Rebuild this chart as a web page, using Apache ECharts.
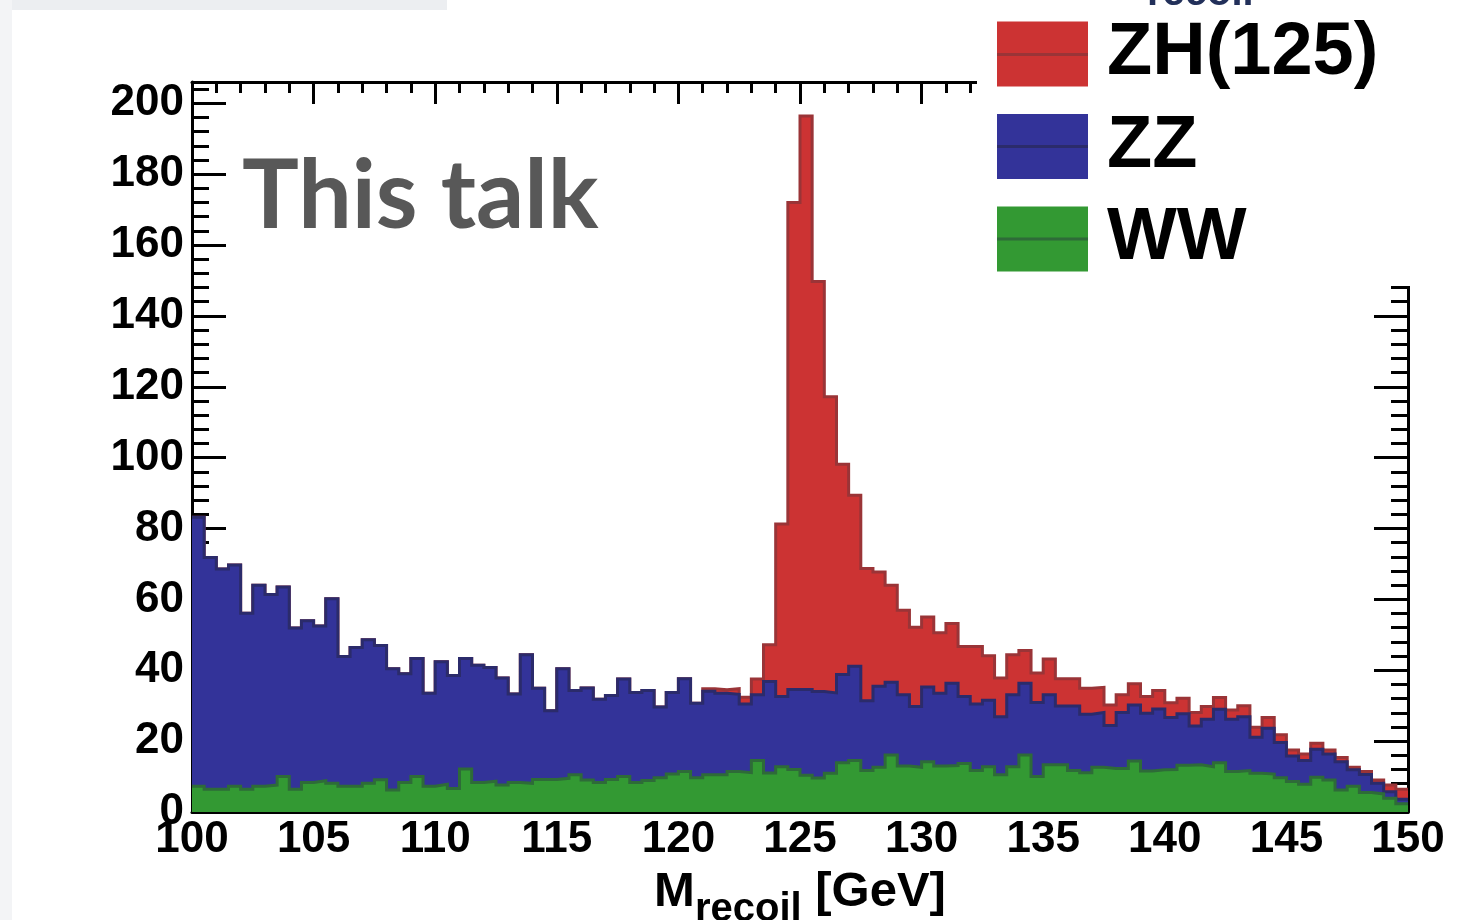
<!DOCTYPE html>
<html>
<head>
<meta charset="utf-8">
<script src="https://cdn.jsdelivr.net/npm/echarts@6/dist/echarts.min.js"></script>
<style>
  html, body { margin: 0; padding: 0; background: #ffffff; }
  #chart { width: 1479px; height: 920px; }
</style>
</head>
<body>
<div id="chart"></div>
<script>
// Recoil-mass distribution, stacked per process, 0.5 GeV bins from 100 to 150 GeV.
const xMin = 100;
const xMax = 150;
const binWidth = 0.5;
const xTickStep = 5;
const yTickStep = 20;
const yMax = 206;

// WW background (events per bin)
const ww = [
  7.3, 6.4, 6.4, 7.3, 6.4, 7.3, 7.6, 10.0, 6.4, 8.3,
  8.8, 8.1, 7.3, 7.3, 8.1, 9.1, 6.2, 8.3, 10.0, 7.3,
  7.8, 6.6, 12.1, 8.3, 8.7, 7.6, 8.3, 8.1, 9.2, 9.2,
  9.5, 10.5, 9.0, 8.3, 9.2, 10.0, 8.3, 8.9, 9.7, 10.7,
  11.4, 9.7, 10.5, 10.5, 11.4, 11.1, 14.5, 11.0, 12.8, 12.0,
  10.4, 9.6, 10.9, 13.9, 14.5, 11.7, 12.6, 16.1, 13.0, 12.6,
  14.2, 13.0, 13.1, 13.7, 11.7, 12.8, 10.5, 12.8, 16.1, 10.0,
  13.3, 13.3, 11.7, 11.1, 12.6, 12.3, 12.3, 14.4, 11.6, 11.9,
  12.0, 13.2, 13.3, 12.8, 13.9, 11.4, 11.7, 10.9, 10.7, 9.7,
  8.6, 7.8, 9.8, 9.0, 6.2, 7.3, 5.5, 5.1, 3.9, 2.3
];

// ZZ background (events per bin)
const zz = [
  75.9, 65.4, 62.2, 62.4, 49.7, 56.7, 53.8, 53.5, 45.5, 45.7,
  43.7, 52.1, 36.6, 39.1, 40.5, 37.9, 34.2, 30.7, 33.3, 26.2,
  34.6, 31.9, 31.2, 33.1, 32.1, 30.2, 25.0, 36.3, 25.7, 19.4,
  30.9, 23.8, 26.0, 23.5, 23.7, 27.5, 25.4, 25.4, 19.9, 23.0,
  26.2, 21.0, 23.6, 23.0, 21.8, 19.4, 18.6, 25.8, 19.8, 22.6,
  24.2, 24.4, 22.7, 24.9, 26.6, 19.7, 22.9, 20.5, 20.1, 17.2,
  21.1, 20.5, 23.2, 18.9, 18.8, 18.7, 16.4, 20.3, 20.2, 20.9,
  19.8, 16.6, 18.2, 16.5, 15.5, 12.1, 15.8, 15.8, 16.3, 17.2,
  14.7, 14.5, 11.0, 13.4, 15.1, 14.8, 15.2, 10.2, 12.9, 9.9,
  7.2, 6.7, 7.9, 7.4, 8.0, 4.6, 5.1, 3.0, 1.8, 1.3
];

// ZH(125) signal (events per bin)
const zh = [
  0, 0, 0, 0, 0, 0, 0, 0, 0, 0,
  0, 0, 0, 0, 0, 0, 0, 0, 0, 0,
  0, 0, 0, 0, 0, 0, 0, 0, 0, 0,
  0, 0, 0, 0, 0, 0, 0, 0, 0, 0,
  0, 0, 0.7, 1.0, 1.6, 1.9, 4.4, 10.4, 48.7, 137.4,
  161.8, 115.7, 83.6, 59.3, 48.3, 37.3, 32.2, 27.4, 23.8, 22.3,
  19.7, 17.1, 16.9, 14.1, 16.2, 12.6, 10.9, 11.3, 9.3, 8.3,
  10.1, 7.7, 7.7, 7.3, 7.1, 5.8, 5.0, 6.0, 4.7, 5.2,
  4.1, 4.4, 3.8, 3.6, 3.3, 2.6, 3.1, 2.8, 3.1, 2.2,
  1.7, 1.9, 1.7, 1.1, 1.2, 0.7, 0.8, 0.9, 1.9, 2.8
];

const seriesNames = ['ZH(125)', 'ZZ', 'WW'];
const fillColors = { 'ZH(125)': '#cc3333', 'ZZ': '#333399', 'WW': '#339933' };
const edgeColors = { 'ZH(125)': '#9a3437', 'ZZ': '#2b2b6b', 'WW': '#2e6b38' };

const FONT = "'Liberation Sans', Arial, Helvetica, sans-serif";

// Stack contents: each layer is drawn from zero up to the sum of itself and everything below it.
const stackOrder = [['WW', ww], ['ZZ', zz], ['ZH(125)', zh]];
const stackTops = {};
let running = ww.map(() => 0);
stackOrder.forEach(([name, values]) => {
  running = running.map((v, i) => v + values[i]);
  stackTops[name] = running;
});

// Bin lower edges, plus the closing edge so the last bin is drawn as a full step.
const binEdges = ww.map((_, i) => xMin + i * binWidth);
function stepData(values) {
  const pts = binEdges.map((x, i) => [x, values[i]]);
  pts.push([xMax, values[values.length - 1]]);
  return pts;
}

function histSeries(name, z) {
  return {
    name: name,
    type: 'line',
    step: 'end',
    data: stepData(stackTops[name]),
    xAxisIndex: 0,
    yAxisIndex: 0,
    symbol: 'none',
    showSymbol: false,
    silent: true,
    z: z,
    itemStyle: { color: fillColors[name] },
    lineStyle: { color: edgeColors[name], width: 3, join: 'miter' },
    areaStyle: { color: fillColors[name], opacity: 1, origin: 'start' }
  };
}

const tickLine = { color: '#000', width: 3 };
const labelStyle = { fontSize: 44, fontWeight: 'bold', fontFamily: FONT, color: '#000' };

function yAxisDef(position, interval, tickLen, withLine, withLabels) {
  return {
    type: 'value',
    position: position,
    min: 0,
    max: yMax,
    interval: interval,
    axisLine: { show: withLine, onZero: false, lineStyle: tickLine },
    axisTick: { show: true, inside: true, length: tickLen, lineStyle: tickLine },
    axisLabel: Object.assign({ show: withLabels, showMaxLabel: false, margin: 8 }, labelStyle),
    splitLine: { show: false }
  };
}

function xAxisDef(position, withLabels) {
  const ax = {
    type: 'value',
    position: position,
    min: xMin,
    max: xMax,
    interval: xTickStep,
    axisLine: { show: true, onZero: false, lineStyle: tickLine },
    axisTick: { show: true, inside: true, length: 22, lineStyle: tickLine },
    minorTick: { show: true, splitNumber: 5, length: 11, lineStyle: tickLine },
    axisLabel: Object.assign({ show: withLabels, margin: 6 }, labelStyle),
    splitLine: { show: false },
    minorSplitLine: { show: false }
  };
  if (withLabels) {
    ax.name = '{m|M}{s|recoil}{m| [GeV]}';
    ax.nameLocation = 'middle';
    ax.nameGap = 37;
    ax.nameTextStyle = {
      rich: {
        m: { fontSize: 49, fontWeight: 'bold', fontFamily: FONT, color: '#000', lineHeight: 52 },
        s: { fontSize: 40, fontWeight: 'bold', fontFamily: FONT, color: '#000', lineHeight: 12, verticalAlign: 'top', padding: [23, 0, 0, 0] }
      }
    };
  }
  return ax;
}

const chart = echarts.init(document.getElementById('chart'), null, { renderer: 'canvas' });

chart.setOption({
  animation: false,
  backgroundColor: '#ffffff',
  grid: { left: 192, right: 71, top: 82, bottom: 108, containLabel: false, outerBoundsMode: 'none' },
  xAxis: [xAxisDef('bottom', true), xAxisDef('top', false)],
  yAxis: [
    yAxisDef('left', yTickStep, 34, true, true),
    yAxisDef('left', 4, 17, false, false),
    yAxisDef('right', yTickStep, 34, true, false),
    yAxisDef('right', 4, 17, false, false)
  ],
  legend: {
    orient: 'vertical',
    left: 997,
    top: 17,
    padding: 0,
    itemGap: 18.5,
    itemWidth: 91,
    itemHeight: 65,
    selectedMode: false,
    z: 20,
    textStyle: { fontSize: 74, fontWeight: 'bold', fontFamily: FONT, color: '#000', padding: [0, 0, 0, 14] },
    data: seriesNames.map(n => ({ name: n, icon: 'rect', itemStyle: { color: fillColors[n], borderWidth: 0 } }))
  },
  graphic: [
    // slide background pieces at the edges
    { type: 'rect', left: 0, top: 0, z: 1, silent: true, shape: { width: 447, height: 10 }, style: { fill: '#eceef1' } },
    { type: 'rect', left: 0, top: 0, z: 1, silent: true, shape: { width: 12, height: 920 }, style: { fill: '#f3f4f6' } },
    // white legend panel over the upper-right corner of the frame
    { type: 'rect', left: 977, top: 0, z: 10, silent: true, shape: { width: 502, height: 286 }, style: { fill: '#ffffff' } },
    // line markers across the legend swatches
    { type: 'line', z: 21, silent: true, shape: { x1: 997, y1: 54.5, x2: 1088, y2: 54.5 }, style: { stroke: edgeColors['ZH(125)'], lineWidth: 3 } },
    { type: 'line', z: 21, silent: true, shape: { x1: 997, y1: 146.5, x2: 1088, y2: 146.5 }, style: { stroke: edgeColors['ZZ'], lineWidth: 3 } },
    { type: 'line', z: 21, silent: true, shape: { x1: 997, y1: 239, x2: 1088, y2: 239 }, style: { stroke: edgeColors['WW'], lineWidth: 3 } },
    // title fragment at the top edge
    { type: 'text', z: 21, silent: true, x: 1147, y: -6, style: { text: 'recoil', font: "bold 40px 'Liberation Sans', Arial, sans-serif", fill: '#22305a', verticalAlign: 'middle', align: 'left' } },
    // overlay caption
    { type: 'text', z: 21, silent: true, x: 242, y: 197, style: { text: 'This talk', font: "bold 95px Lato, 'Open Sans', sans-serif", fill: '#585858', verticalAlign: 'middle', align: 'left' } }
  ],
  series: [
    histSeries('ZH(125)', 3),
    histSeries('ZZ', 4),
    histSeries('WW', 5)
  ]
});
</script>
</body>
</html>
